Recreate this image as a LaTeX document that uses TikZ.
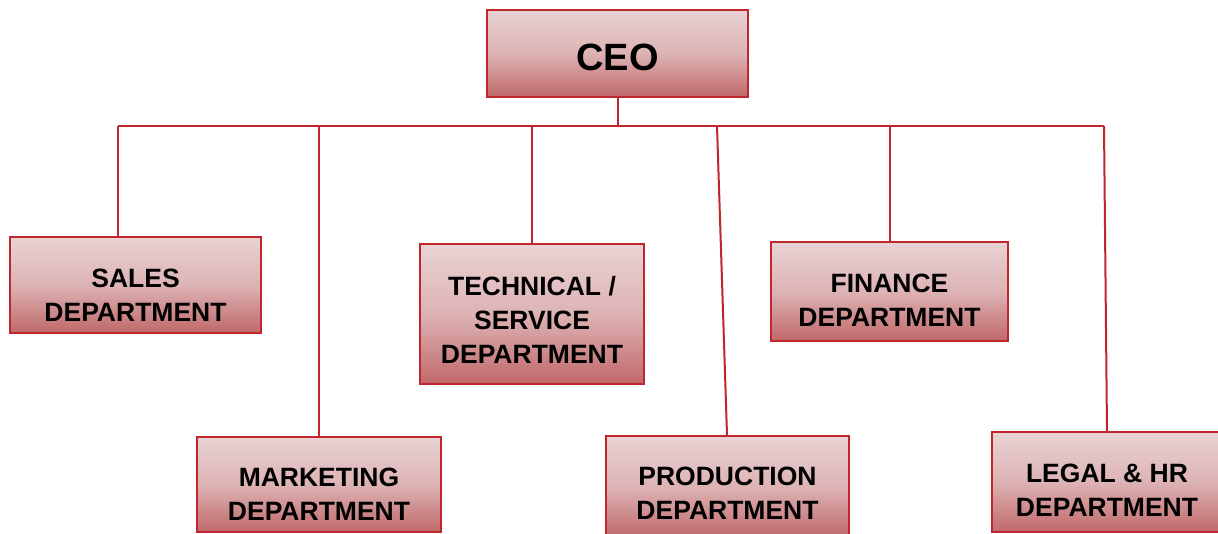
\documentclass[tikz,border=0pt]{standalone}
\usepackage{fontspec}
\setmainfont{Liberation Sans}
\definecolor{boxtop}{HTML}{E9D3D4}
\definecolor{boxmid}{HTML}{DDB3B4}
\definecolor{boxbot}{HTML}{C06869}
\definecolor{edge}{HTML}{C0272D}
\tikzset{
  dept/.style={draw=edge, line width=2pt, top color=boxtop, bottom color=boxbot, middle color=boxmid,
    inner sep=0pt, anchor=north west},
  txt/.style={align=center, font=\fontsize{26.5}{34}\selectfont\bfseries, inner sep=0pt},
  conn/.style={draw=edge, line width=2pt}
}
\begin{document}
\begin{tikzpicture}[x=1pt,y=-1pt]
\useasboundingbox (0,0) rectangle (1218,533);
\fill[white] (0,0) rectangle (1218,533);
\node[dept, minimum width=261pt, minimum height=87pt] (ceo) at (486,9) {};
\node[dept, minimum width=251pt, minimum height=96pt] (sales) at (9,236) {};
\node[dept, minimum width=244pt, minimum height=95pt] (mkt) at (196,436) {};
\node[dept, minimum width=224pt, minimum height=140pt] (tech) at (419,243) {};
\node[dept, minimum width=243pt, minimum height=102pt] (prod) at (605,435) {};
\node[dept, minimum width=237pt, minimum height=99pt] (fin) at (770,241) {};
\node[dept, minimum width=230pt, minimum height=100pt] (legal) at (991,431) {};
\node[txt, font=\fontsize{38}{40}\selectfont\bfseries] (ceoT) at ([yshift=-4pt]ceo.center) {CEO};
\node[txt] (salesT) at ([yshift=-10pt]sales.center) {SALES\\DEPARTMENT};
\node[txt] (mktT) at ([yshift=-10pt]mkt.center) {MARKETING\\DEPARTMENT};
\node[txt] (techT) at ([yshift=-6pt]tech.center) {TECHNICAL /\\SERVICE\\DEPARTMENT};
\node[txt] (prodT) at ([yshift=-6.5pt]prod.center) {PRODUCTION\\DEPARTMENT};
\node[txt] (finT) at ([yshift=-8.5pt]fin.center) {FINANCE\\DEPARTMENT};
\node[txt] (legalT) at ([yshift=-8pt]legal.center) {LEGAL \& HR\\DEPARTMENT};
\coordinate (busL) at (118,126);
\coordinate (busR) at (1104,126);
\coordinate (busP) at (717,126);
\coordinate (prodTop) at (727,435);
\coordinate (legalTop) at (1107,431);
\draw[conn] (busL) -- (busR);
\draw[conn] (ceo.south) -- (ceo.south |- busL);
\draw[conn] (busL) -- (sales.north -| busL);
\draw[conn] (mkt.north) -- (mkt.north |- busL);
\draw[conn] (tech.north) -- (tech.north |- busL);
\draw[conn] (busP) -- (prodTop);
\draw[conn] (fin.north) -- (fin.north |- busL);
\draw[conn] (busR) -- (legalTop);
\end{tikzpicture}
\end{document}
